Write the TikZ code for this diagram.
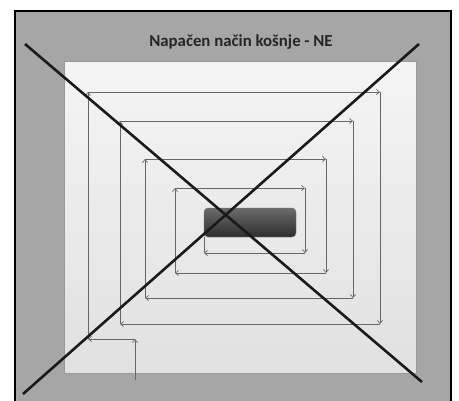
\documentclass[tikz,border=0pt]{standalone}
\usepackage{fontspec}
\setmainfont{Carlito}
\usetikzlibrary{arrows.meta}
\definecolor{bggray}{HTML}{A6A6A6}
\definecolor{pathgray}{HTML}{666666}
\definecolor{crossblack}{HTML}{1A1A1A}
\tikzset{
  lawn/.style={draw=black!40, line width=0.8pt, top color=black!4, bottom color=black!12},
  mowpath/.style={draw=pathgray, line width=0.7pt, -{Straight Barb[length=3pt,width=5pt]}},
  mowlink/.style={draw=pathgray, line width=0.7pt},
  obstacle/.style={rounded corners=4pt, draw=black!55, line width=0.4pt, top color=black!58, bottom color=black!82},
  cross/.style={draw=crossblack, line width=2.6pt},
  titletext/.style={font=\bfseries\fontsize{16.8}{20}\selectfont, text=black!85}
}
\begin{document}
\begin{tikzpicture}[x=1pt,y=-1pt]
\useasboundingbox (0,0) rectangle (459,400);
\fill[white] (0,0) rectangle (459,400);
\begin{scope}
\clip (0,0) rectangle (459,400);
\fill[bggray] (15,11) rectangle (451,404);
\draw[black, line width=2pt] (15,11) rectangle (451,404);
\end{scope}
\node[titletext] (title) at (241,42) {Napačen način košnje - NE};
\path[lawn] (64,61) rectangle (416,373);
% spiral corners
\coordinate (s0) at (135,380);
\coordinate (p1) at (135,339);
\coordinate (p2) at (88,339);
\coordinate (p3) at (88,92);
\coordinate (p4) at (380,92);
\coordinate (p5) at (380,324);
\coordinate (p6) at (120,324);
\coordinate (p7) at (120,121);
\coordinate (p8) at (353,121);
\coordinate (p9) at (353,298);
\coordinate (p10) at (145,298);
\coordinate (p11) at (145,159);
\coordinate (p12) at (326,159);
\coordinate (p13) at (326,273);
\coordinate (p14) at (175,273);
\coordinate (p15) at (175,188);
\coordinate (p16) at (305,188);
\coordinate (p17) at (305,253);
\coordinate (p18) at (204,253);
\coordinate (p19) at (204,237);
\draw[mowpath] (s0) -- (p1);
\draw[mowpath] (p1) -- (p2);
\draw[mowpath] (p2) -- (p3);
\draw[mowpath] (p3) -- (p4);
\draw[mowpath] (p4) -- (p5);
\draw[mowpath] (p5) -- (p6);
\draw[mowpath] (p6) -- (p7);
\draw[mowpath] (p7) -- (p8);
\draw[mowpath] (p8) -- (p9);
\draw[mowpath] (p9) -- (p10);
\draw[mowpath] (p10) -- (p11);
\draw[mowpath] (p11) -- (p12);
\draw[mowpath] (p12) -- (p13);
\draw[mowpath] (p13) -- (p14);
\draw[mowpath] (p14) -- (p15);
\draw[mowpath] (p15) -- (p16);
\draw[mowpath] (p16) -- (p17);
\draw[mowpath] (p17) -- (p18);
\draw[mowlink] (p18) -- (p19);
% obstacle
\path[obstacle] (204,208) rectangle (296,237);
% cross
\coordinate (c1) at (25,44);
\coordinate (c2) at (422,382);
\coordinate (c3) at (419,44);
\coordinate (c4) at (23,394);
\draw[cross] (c1) -- (c2);
\draw[cross] (c3) -- (c4);
\end{tikzpicture}
\end{document}
